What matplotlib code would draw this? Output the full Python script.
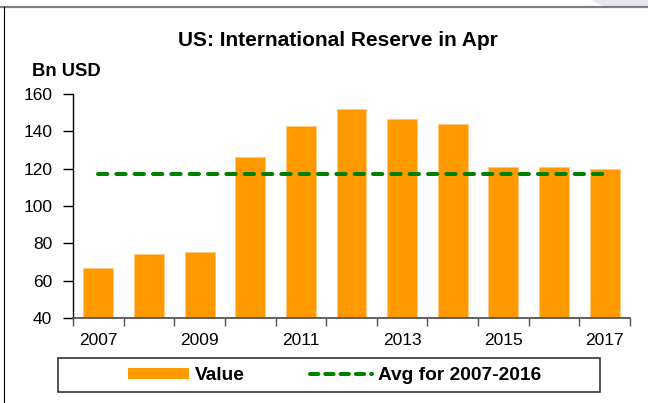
import matplotlib
matplotlib.use("Agg")
import matplotlib.pyplot as plt
from matplotlib.patches import Rectangle, Polygon
from matplotlib.lines import Line2D
import numpy as np

plt.rcParams['font.family'] = ['Liberation Sans', 'DejaVu Sans']
plt.rcParams['lines.scale_dashes'] = False

years = ['2007', '2008', '2009', '2010', '2011', '2012', '2013', '2014', '2015', '2016', '2017']
values = [66.6, 74.3, 75.2, 126.2, 142.7, 151.9, 146.4, 144.1, 121.0, 120.7, 119.6]
avg = [117.0, 117.0, 117.0, 117.0, 117.0, 117.0, 117.0, 117.0, 117.0, 117.0, 117.0]
yticks = [40, 60, 80, 100, 120, 140, 160]
title = 'US: International Reserve in Apr'
unit = 'Bn USD'
labels = ['Value', 'Avg for 2007-2016']

W, H = 648, 403
fig = plt.figure(figsize=(W / 100, H / 100), dpi=100)
ax = fig.add_axes([73 / W, 1 - 318 / H, (630 - 73) / W, (318 - 94) / H])

x = np.arange(len(years))
orange = '#FF9900'
green = '#008000'
ax.bar(x, [v - 40 for v in values], bottom=40, width=0.59, color=orange,
       edgecolor='#FFC680', linewidth=0.6, zorder=2)
ax.plot(x, avg, color=green, linewidth=2.9, dashes=(6.7, 6.5),
        dash_capstyle='round', zorder=3)

ax.set_xlim(-0.5, len(years) - 0.5)
ax.set_ylim(40, 160)
ax.set_yticks(yticks)
ax.set_yticklabels([str(t) for t in yticks])

# category boundaries as major ticks, labels at every other category centre
ax.set_xticks(np.arange(-0.5, len(years), 1.0))
ax.set_xticklabels([])
ax.set_xticks(x[::2], minor=True)
ax.set_xticklabels(years[::2], minor=True)
ax.tick_params(axis='x', which='major', direction='out', length=6, width=1, color='#555555')
ax.tick_params(axis='x', which='minor', length=0, pad=11, labelsize=12.5)
ax.tick_params(axis='y', direction='out', length=7, width=1, color='black', pad=8, labelsize=12.5)

for s in ['top', 'right']:
    ax.spines[s].set_visible(False)
ax.spines['left'].set_color('black')
ax.spines['left'].set_linewidth(1)
ax.spines['bottom'].set_color('#555555')
ax.spines['bottom'].set_linewidth(1.3)

fig.text(338 / W, 1 - 46 / H, title, ha='center', va='baseline', fontsize=15, fontweight='bold')
fig.text(31.5 / W, 1 - 75.5 / H, unit, ha='left', va='baseline', fontsize=13.2, fontweight='bold')

# legend frame
fig.add_artist(Rectangle((58 / W, 1 - 391.5 / H), (600 - 58) / W, (391.5 - 358) / H,
                         transform=fig.transFigure, facecolor='white', edgecolor='#333333',
                         linewidth=1.2))
handles = [Rectangle((0, 0), 1, 1, facecolor=orange, edgecolor='none'),
           Line2D([0], [0], color=green, linewidth=2.9, dashes=(6.0, 5.0), dash_capstyle='round')]
fig.legend(handles, labels, loc='center', bbox_to_anchor=(334.5 / W, 1 - 375.5 / H),
           ncol=2, frameon=False, prop={'weight': 'bold', 'size': 13.8},
           handlelength=3.2, handleheight=0.48, handletextpad=0.32, columnspacing=3.4,
           borderpad=0.2)

# outer border lines
fig.add_artist(Line2D([0, 1], [1 - 6.7 / H, 1 - 6.7 / H], transform=fig.transFigure,
                      color='#808080', linewidth=1.6))
fig.add_artist(Line2D([4 / W, 4 / W], [0, 1 - 7 / H], transform=fig.transFigure,
                      color='black', linewidth=0.8))
fig.add_artist(Polygon([(591 / W, 1), (1, 1), (1, 1 - 5.7 / H), (603 / W, 1 - 5.7 / H)],
                       closed=True, transform=fig.transFigure, facecolor='#E6E6F2',
                       edgecolor='none'))

fig.savefig('out.png', dpi=100)
